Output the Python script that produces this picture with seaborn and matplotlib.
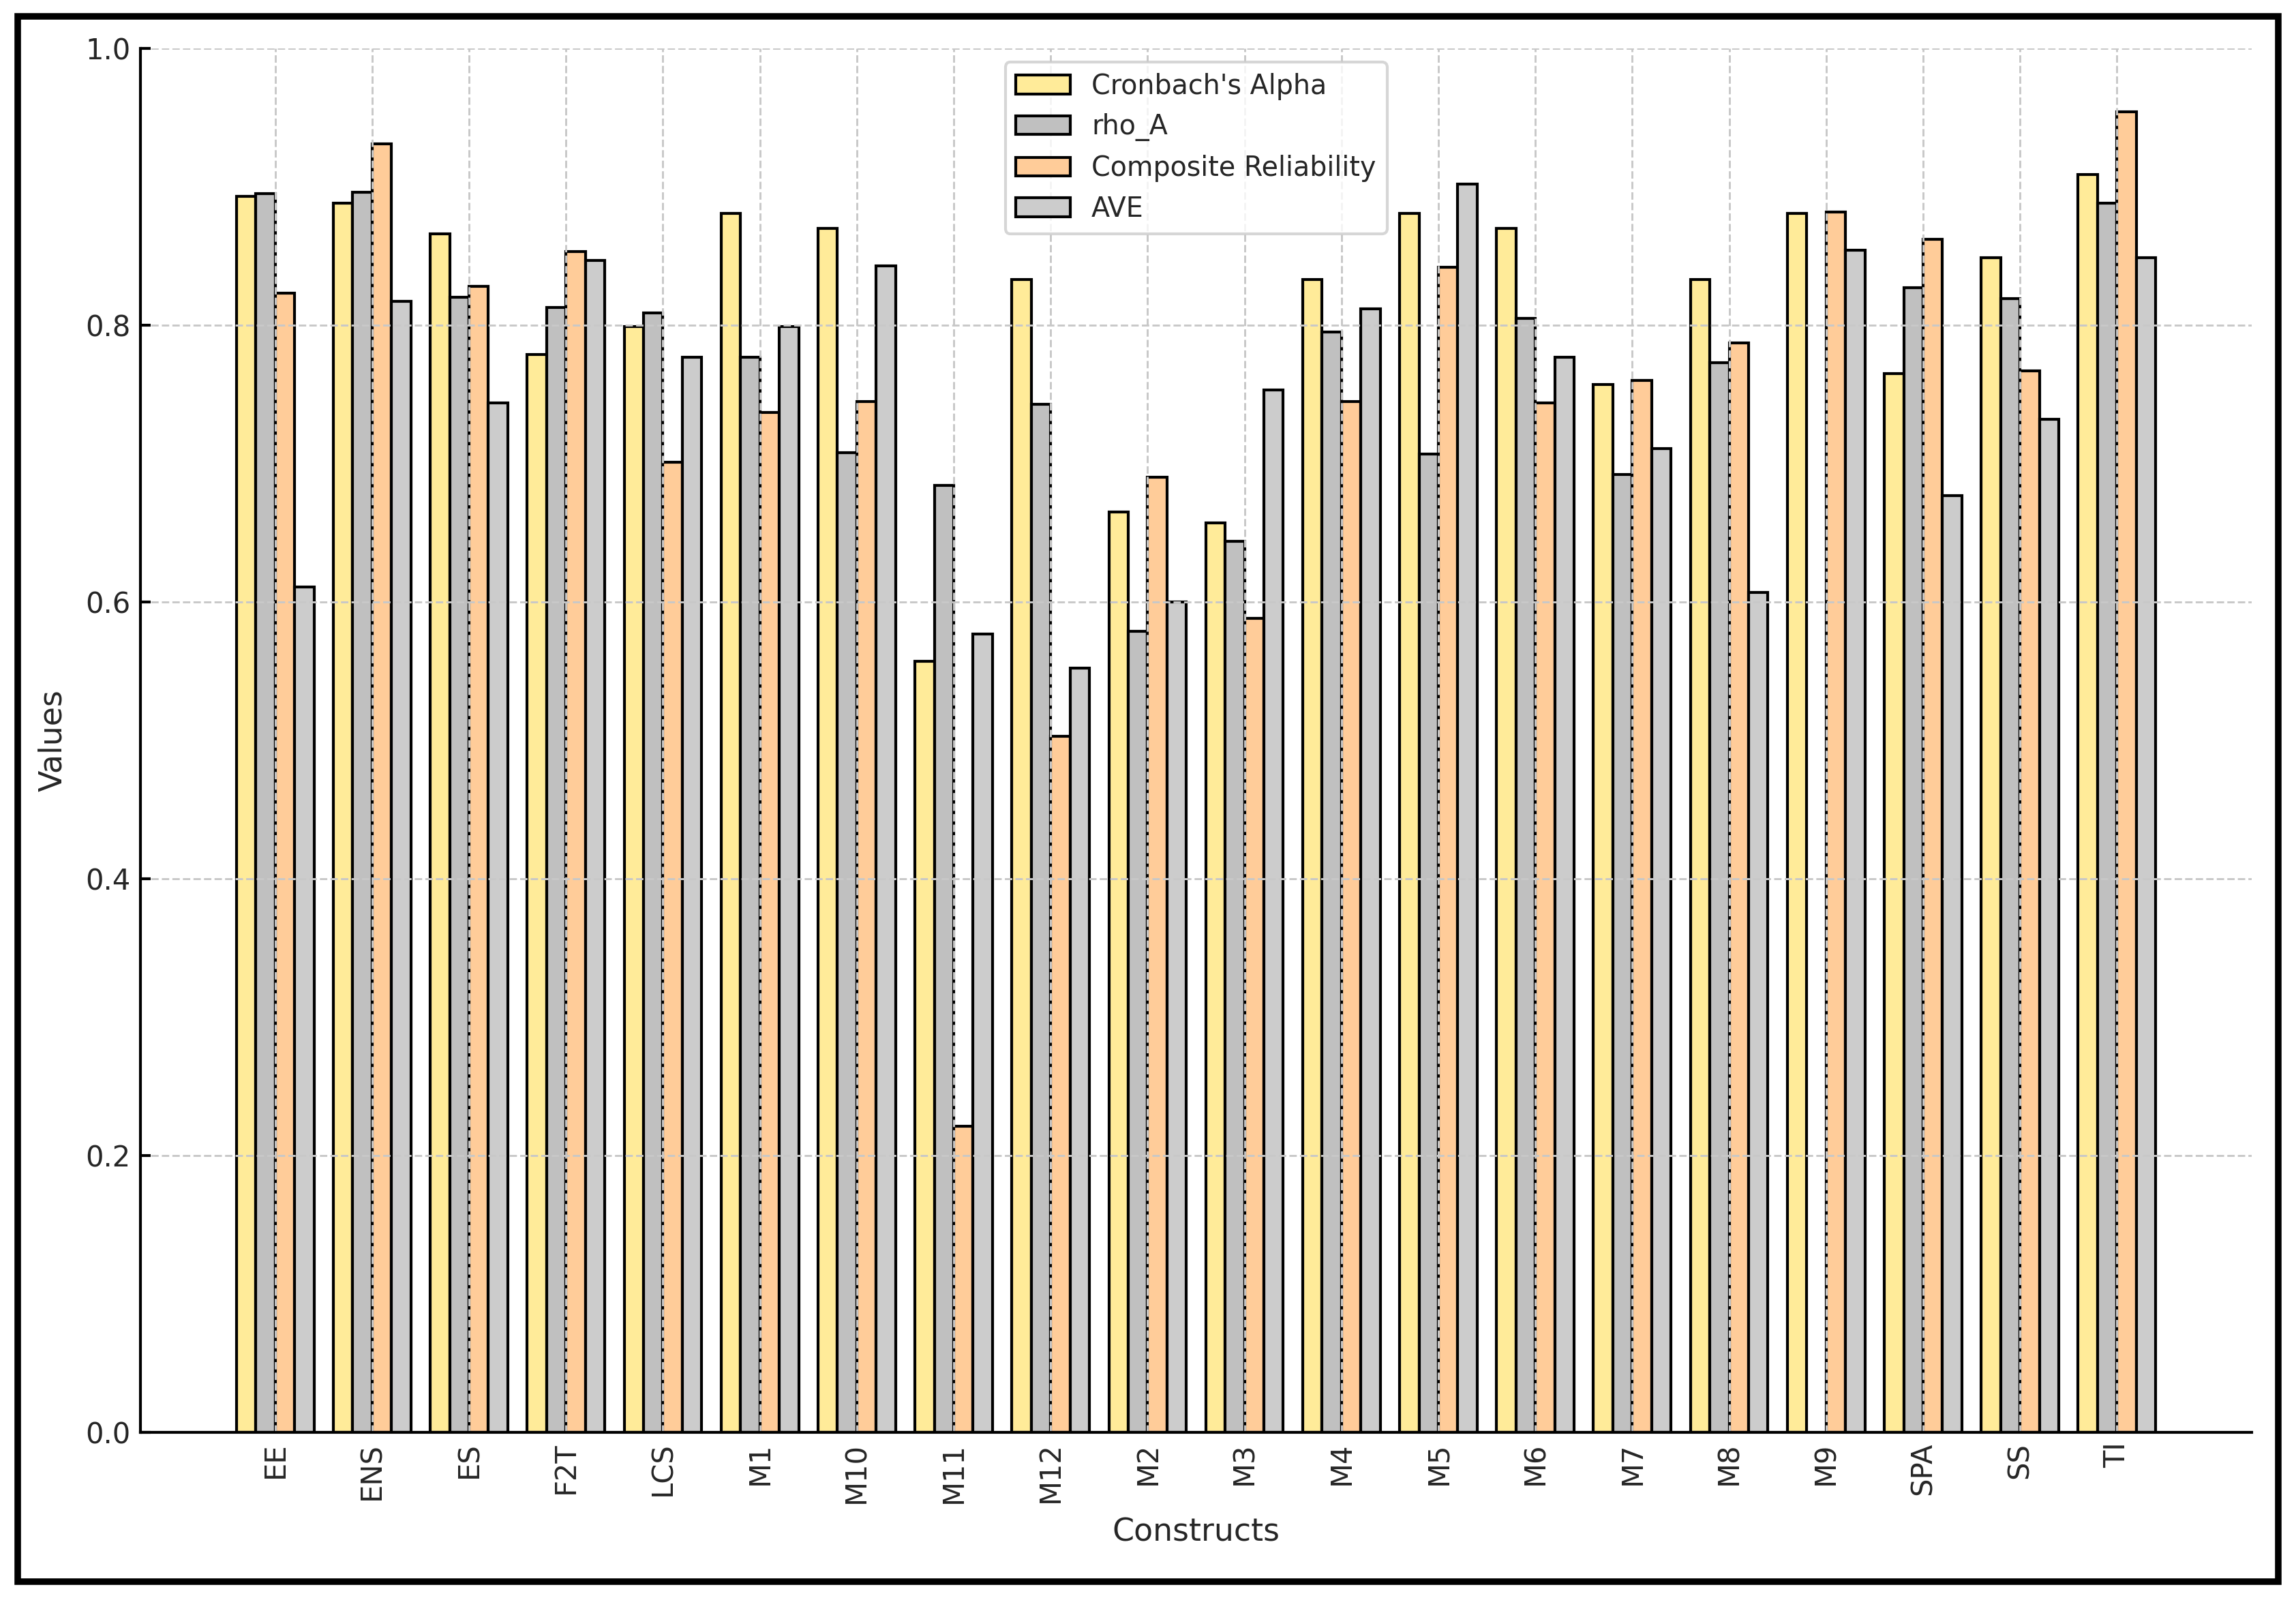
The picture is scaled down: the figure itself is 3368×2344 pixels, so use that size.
import matplotlib
matplotlib.use("Agg")
import matplotlib.pyplot as plt
import seaborn as sns
import pandas as pd
import numpy as np
from matplotlib.patches import Rectangle

constructs = ["EE", "ENS", "ES", "F2T", "LCS", "M1", "M10", "M11", "M12", "M2",
              "M3", "M4", "M5", "M6", "M7", "M8", "M9", "SPA", "SS", "TI"]
metrics = ["Cronbach's Alpha", "rho_A", "Composite Reliability", "AVE"]

cronbach = [0.893, 0.888, 0.866, 0.779, 0.799, 0.881, 0.870, 0.557, 0.833, 0.665,
            0.657, 0.833, 0.881, 0.870, 0.757, 0.833, 0.881, 0.765, 0.849, 0.909]
rho_a = [0.895, 0.896, 0.820, 0.813, 0.809, 0.777, 0.708, 0.684, 0.743, 0.579,
         0.644, 0.795, 0.707, 0.805, 0.692, 0.773, np.nan, 0.827, 0.819, 0.888]
composite = [0.823, 0.931, 0.828, 0.853, 0.701, 0.737, 0.745, 0.221, 0.503, 0.690,
             0.588, 0.745, 0.842, 0.744, 0.760, 0.787, 0.882, 0.862, 0.767, 0.954]
ave = [0.611, 0.817, 0.744, 0.847, 0.777, 0.799, 0.843, 0.577, 0.552, 0.600,
       0.753, 0.812, 0.902, 0.777, 0.711, 0.607, 0.854, 0.677, 0.732, 0.849]

colors = ["#FFEB99", "#C0C0C0", "#FFCC99", "#CCCCCC"]

rows = []
for name, vals in zip(metrics, [cronbach, rho_a, composite, ave]):
    for c, v in zip(constructs, vals):
        rows.append({"Construct": c, "Metric": name, "Value": v})
df = pd.DataFrame(rows)

sns.set_style("whitegrid", {"axes.edgecolor": "black", "axes.linewidth": 1.0})
plt.rcParams["font.family"] = ["DejaVu Sans"]

W, H, DPI = 3368, 2344, 300
fig = plt.figure(figsize=(W / DPI, H / DPI), dpi=DPI)
left, right, top, bottom = 206 / W, 3303 / W, 71 / H, 2101 / H
ax = fig.add_axes([left, 1 - bottom, right - left, bottom - top])

sns.barplot(data=df, x="Construct", y="Value", hue="Metric",
            order=constructs, hue_order=metrics,
            palette=dict(zip(metrics, colors)), saturation=1,
            edgecolor="black", linewidth=1.0, width=0.8,
            errorbar=None, ax=ax)

ax.set_xlim(-1.39, 20.39)
ax.set_ylim(0, 1.0)
ax.set_yticks(np.arange(0, 1.01, 0.2))
ax.set_yticklabels([f"{v:.1f}" for v in np.arange(0, 1.01, 0.2)])

ax.set_axisbelow(False)
ax.grid(True, which="major", axis="both", linestyle="--", color="#c8c8c8", linewidth=0.7)

for s in ["top", "right"]:
    ax.spines[s].set_visible(False)
for s in ["left", "bottom"]:
    sp = ax.spines[s]
    sp.set_visible(True)
    sp.set_color("black")
    sp.set_linewidth(1.0)
    sp.set_zorder(10)

ax.tick_params(axis="y", direction="in", length=3.5, width=1, color="black",
               left=True, labelsize=10, labelcolor="#262626")
ax.tick_params(axis="x", direction="in", length=0, labelsize=10, labelcolor="#262626",
               rotation=90)

ax.set_xlabel("Constructs", fontsize=11, color="#262626", labelpad=5)
ax.set_ylabel("Values", fontsize=11, color="#262626", labelpad=6)

handles, labels = ax.get_legend_handles_labels()
for h in handles:
    h.set_edgecolor("black")
    h.set_linewidth(1.0)
leg = ax.legend(handles, labels, loc="upper center", fontsize=9.5, frameon=True,
                fancybox=True, edgecolor="#cccccc", framealpha=0.8)
for t in leg.get_texts():
    t.set_color("#262626")

fig.patches.append(Rectangle((26 / W, 1 - 2320 / H), (3342 - 26) / W, (2320 - 24) / H,
                             transform=fig.transFigure, fill=False,
                             edgecolor="black", linewidth=2.3))

fig.savefig("out.png", dpi=DPI)
